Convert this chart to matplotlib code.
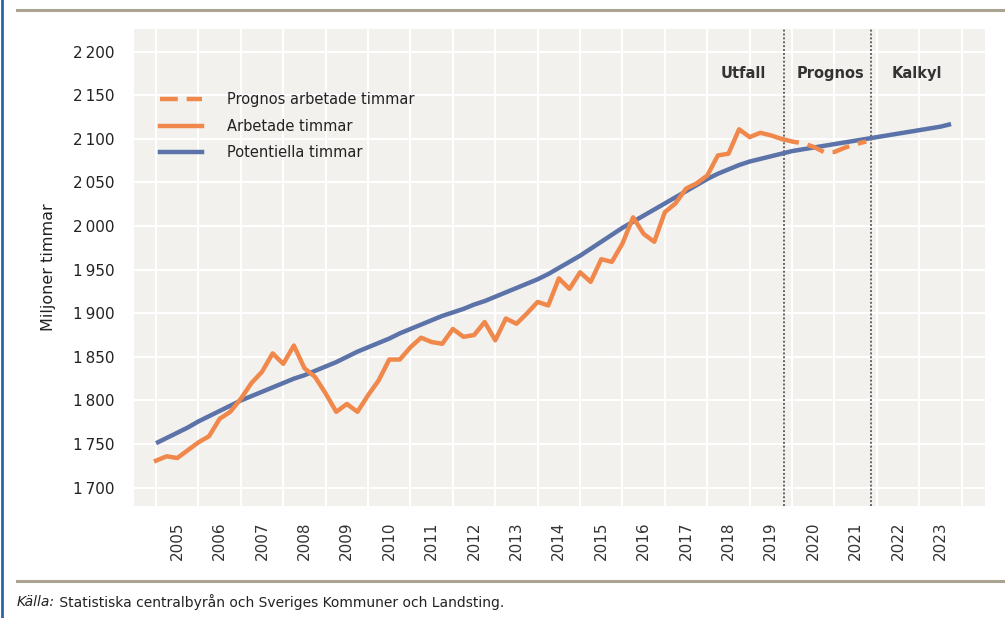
import matplotlib
matplotlib.use("Agg")
import matplotlib.pyplot as plt
from matplotlib.lines import Line2D
import numpy as np

plt.rcParams['font.family'] = ['DejaVu Sans']

# ---- data ----
years = list(range(2005, 2024))
year_labels = [str(y) for y in years]

# quarterly worked hours (millions), 2005Q1 - 2019Q4
arbetade = [1731, 1736, 1734, 1743,
            1752, 1759, 1779, 1787,
            1802, 1820, 1833, 1854,
            1842, 1863, 1837, 1827,
            1808, 1787, 1796, 1787,
            1806, 1823, 1847, 1847,
            1861, 1872, 1867, 1865,
            1882, 1873, 1875, 1890,
            1869, 1894, 1888, 1900,
            1913, 1909, 1940, 1928,
            1947, 1936, 1962, 1959,
            1980, 2010, 1991, 1982,
            2016, 2026, 2043, 2049,
            2058, 2081, 2083, 2111,
            2102, 2107, 2104, 2100]

# forecast 2019Q4 - 2021Q4
prognos = [2100, 2097, 2095, 2091, 2085, 2085, 2090, 2094, 2097]

# potential hours 2005Q1 - 2023Q4
potentiella = [1751, 1757, 1763, 1769,
               1776, 1782, 1788, 1794,
               1800, 1805, 1810, 1815,
               1820, 1825, 1829, 1834,
               1839, 1844, 1850, 1856,
               1861, 1866, 1871, 1877,
               1882, 1887, 1892, 1897,
               1901, 1905, 1910, 1914,
               1919, 1924, 1929, 1934,
               1939, 1945, 1952, 1959,
               1966, 1974, 1982, 1990,
               1998, 2005, 2012, 2019,
               2026, 2033, 2040, 2047,
               2054, 2060, 2065, 2070,
               2074, 2077, 2080, 2083,
               2086, 2088, 2090, 2092,
               2094, 2096, 2098, 2100,
               2102, 2104, 2106, 2108,
               2110, 2112, 2114, 2117]

y_ticks = [1700, 1750, 1800, 1850, 1900, 1950, 2000, 2050, 2100, 2150, 2200]
y_tick_labels = ['1\u2009700', '1\u2009750', '1\u2009800', '1\u2009850', '1\u2009900', '1\u2009950',
                 '2\u2009000', '2\u2009050', '2\u2009100', '2\u2009150', '2\u2009200']
regions = ['Utfall', 'Prognos', 'Kalkyl']
region_x = [2018.85, 2020.9, 2022.95]
dividers = [2019.82, 2021.87]

orange = '#f0884c'
blue = '#5b73a8'
bg = '#f3f1ee'

q = lambda start, n: start + np.arange(n) / 4.0
x_arb = q(2005.0, len(arbetade))
x_prog = q(2019.75, len(prognos))
x_pot = q(2005.0, len(potentiella))

W, H = 1005, 618
fig = plt.figure(figsize=(W / 100, H / 100), dpi=100)
ax = fig.add_axes([134 / W, (H - 506) / H, (985 - 134) / W, (506 - 29) / H])
ax.set_facecolor(bg)
for s in ax.spines.values():
    s.set_visible(False)

ax.set_xlim(2004.48, 2024.55)
ax.set_ylim(1679, 2226)

ax.set_xticks([y + 0.5 for y in years])
ax.set_xticklabels(year_labels, rotation=90, fontsize=11, color='#333333')
ax.set_xticks(list(range(2005, 2025)), minor=True)
ax.set_yticks(y_ticks)
ax.set_yticklabels(y_tick_labels, fontsize=11, color='#222222')
ax.tick_params(axis='both', which='both', length=0)
ax.tick_params(axis='x', pad=11)
ax.tick_params(axis='y', pad=14)
ax.grid(True, axis='x', which='minor', color='white', lw=1.5)
ax.grid(True, axis='y', which='major', color='white', lw=1.5)
ax.grid(False, axis='x', which='major')
ax.set_axisbelow(True)

for d in dividers:
    ax.axvline(d, color='#666666', ls=(0, (1, 1)), lw=1.4, zorder=2)

lw = 3.2
ax.plot(x_pot, potentiella, color=blue, lw=lw, solid_capstyle='butt', solid_joinstyle='round', zorder=3)
ax.plot(x_arb, arbetade, color=orange, lw=lw, solid_joinstyle='round', zorder=4)
ax.plot(x_prog, prognos, color=orange, lw=lw, ls=(0, (4, 2)), zorder=4)

for t, xx in zip(regions, region_x):
    ax.text(xx, 2175, t, ha='center', va='center', fontsize=10.5, fontweight='bold', color='#333333')

ax.set_ylabel('Miljoner timmar', fontsize=11.5, color='#222222', labelpad=12)

handles = [Line2D([], [], color=orange, lw=lw, ls=(0, (4, 2))),
           Line2D([], [], color=orange, lw=lw),
           Line2D([], [], color=blue, lw=lw)]
labels = ['Prognos arbetade timmar', 'Arbetade timmar', 'Potentiella timmar']
leg = ax.legend(handles, labels, loc='upper left', bbox_to_anchor=(0.03, 0.868), frameon=False,
                fontsize=10.5, handlelength=2.9, handletextpad=1.7, labelspacing=0.8,
                borderpad=0, borderaxespad=0)
for t in leg.get_texts():
    t.set_color('#222222')
    t.set_fontweight('medium')

# frame decorations
fig.add_artist(Line2D([1.5 / W, 1.5 / W], [0, 1], color='#2b63b3', lw=2))
fig.add_artist(Line2D([17 / W, 1], [1 - 9.5 / H, 1 - 9.5 / H], color='#aaa391', lw=2.2))
fig.add_artist(Line2D([17 / W, 1], [1 - 581 / H, 1 - 581 / H], color='#aaa391', lw=2.2))

t1 = fig.text(17 / W, 1 - 602 / H, 'Källa:', fontsize=10, style='italic', va='center', ha='left', color='#222222')
ax.annotate(' Statistiska centralbyrån och Sveriges Kommuner och Landsting.',
            xy=(1, 0.5), xycoords=t1, va='center', ha='left', fontsize=10, color='#222222',
            annotation_clip=False)

fig.savefig('out.png', dpi=100, facecolor='white')
